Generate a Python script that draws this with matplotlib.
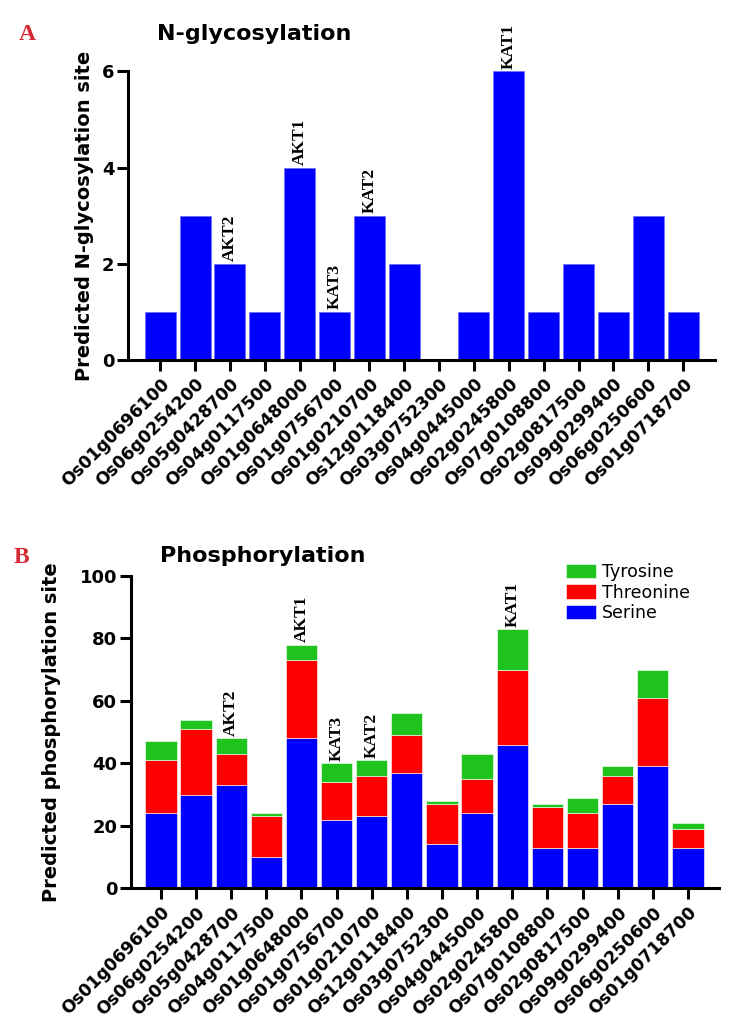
import numpy as np
import matplotlib.pyplot as plt

# gene ids (same order in both panels)
genes = ["Os01g0696100", "Os06g0254200", "Os05g0428700", "Os04g0117500",
         "Os01g0648000", "Os01g0756700", "Os01g0210700", "Os12g0118400",
         "Os03g0752300", "Os04g0445000", "Os02g0245800", "Os07g0108800",
         "Os02g0817500", "Os09g0299400", "Os06g0250600", "Os01g0718700"]

# panel A: predicted N-glycosylation sites
nglyco = [1, 3, 2, 1, 4, 1, 3, 2, 0, 1, 6, 1, 2, 1, 3, 1]

# panel B: predicted phosphorylation sites by residue
serine = [24, 30, 33, 10, 48, 22, 23, 37, 14, 24, 46, 13, 13, 27, 39, 13]
threonine = [17, 21, 10, 13, 25, 12, 13, 12, 13, 11, 24, 13, 11, 9, 22, 6]
tyrosine = [6, 3, 5, 1, 5, 6, 5, 7, 1, 8, 13, 1, 5, 3, 9, 2]

# channel names placed above some bars
channel_idx = [2, 4, 5, 6, 10]
channel_names = ["AKT2", "AKT1", "KAT3", "KAT2", "KAT1"]

BLUE, RED, GREEN = "#0000FF", "#FF0000", "#1EC31E"
SANS = "DejaVu Sans"
SERIF = "Liberation Serif"
PANEL_RED = "#d42a35"


def style_axes(ax, xlim):
    x = np.arange(len(genes))
    ax.set_xlim(*xlim)
    ax.set_xticks(x)
    ax.set_xticklabels(genes, rotation=45, ha="right", va="top",
                       rotation_mode="anchor", fontsize=12.3,
                       fontweight="bold", family=SANS)
    for s in ["top", "right"]:
        ax.spines[s].set_visible(False)
    for s in ["left", "bottom"]:
        ax.spines[s].set_linewidth(2.2)
    ax.tick_params(axis="both", width=2.2, length=8)
    ax.tick_params(axis="y", pad=2)
    ax.tick_params(axis="x", pad=3)
    for lab in ax.get_yticklabels():
        lab.set_fontsize(13)
        lab.set_fontweight("bold")
        lab.set_family(SANS)


def label_channels(ax, tops, pad):
    for i, name in zip(channel_idx, channel_names):
        ax.text(i, tops[i] + pad, name, rotation=90, ha="center", va="bottom",
                fontsize=12.5, fontweight="bold", family=SERIF, clip_on=False)


fig = plt.figure(figsize=(7.32, 10.34), dpi=100)
x = np.arange(len(genes))

# ---- Panel A ----
axA = fig.add_axes([0.175, 0.652, 0.802, 0.279])
axA.bar(x, nglyco, width=0.89, color=BLUE, edgecolor="#7070ff", linewidth=0.6)
axA.set_ylim(0, 6)
axA.set_yticks([0, 2, 4, 6])
style_axes(axA, (-0.92, 15.92))
axA.set_ylabel("Predicted N-glycosylation site", fontsize=14,
               fontweight="bold", family=SANS, va="center")
axA.yaxis.set_label_coords(-0.075, 0.5)
label_channels(axA, nglyco, 0.05)
fig.text(0.026, 0.961, "A", color=PANEL_RED, fontsize=17, fontweight="bold",
         family=SERIF, va="baseline")
fig.text(0.2145, 0.961, "N-glycosylation", fontsize=16, fontweight="bold",
         family=SANS, va="baseline")

# ---- Panel B ----
axB = fig.add_axes([0.179, 0.141, 0.803, 0.302])
s = np.array(serine)
t = np.array(threonine)
y = np.array(tyrosine)
kw = dict(width=0.89, edgecolor="white", linewidth=0.4)
axB.bar(x, s, color=BLUE, label="Serine", **kw)
axB.bar(x, t, bottom=s, color=RED, label="Threonine", **kw)
axB.bar(x, y, bottom=s + t, color=GREEN, label="Tyrosine", **kw)
axB.set_ylim(0, 100)
axB.set_yticks([0, 20, 40, 60, 80, 100])
style_axes(axB, (-0.85, 15.88))
axB.set_ylabel("Predicted phosphorylation site", fontsize=14,
               fontweight="bold", family=SANS, va="center")
axB.yaxis.set_label_coords(-0.135, 0.5)
label_channels(axB, s + t + y, 0.8)
h, l = axB.get_legend_handles_labels()
axB.legend(h[::-1], l[::-1], loc="upper left", bbox_to_anchor=(0.722, 1.075),
           frameon=False, prop={"family": SANS, "size": 12.5},
           handlelength=1.75, handleheight=0.9, handletextpad=0.35,
           labelspacing=0.15, borderaxespad=0.2)
fig.text(0.019, 0.4555, "B", color=PANEL_RED, fontsize=17, fontweight="bold",
         family=SERIF, va="baseline")
fig.text(0.2186, 0.4565, "Phosphorylation", fontsize=16, fontweight="bold",
         family=SANS, va="baseline")

fig.savefig("out.png", dpi=100)
